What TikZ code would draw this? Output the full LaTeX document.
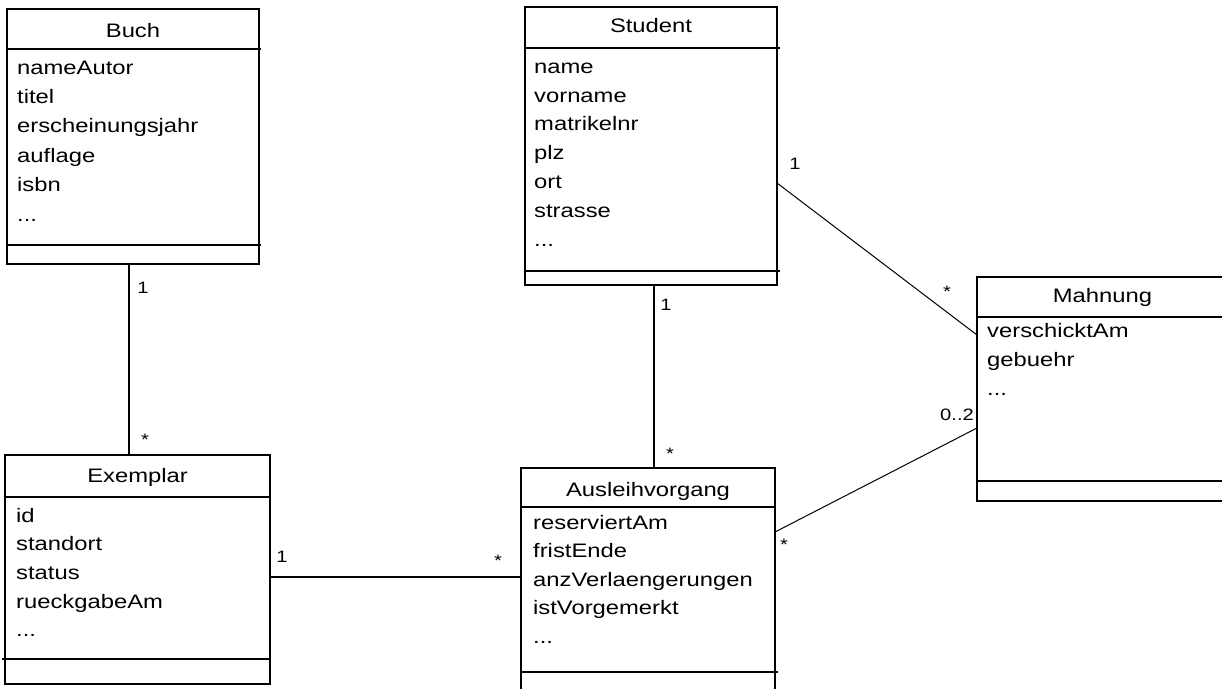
\documentclass[tikz,border=0pt]{standalone}
\usepackage{fontspec}
\setmainfont[FakeStretch=1.22]{Liberation Sans}
\begin{document}
\begin{tikzpicture}[x=1pt,y=-1pt,
  umlbox/.style={draw,line width=1.2pt,inner sep=0pt,outer sep=0pt,rectangle,anchor=north west},
  divider/.style={line width=1.2pt},
  hdr/.style={inner sep=0pt,anchor=base,font=\fontsize{19.5}{22}\selectfont},
  attr/.style={inner sep=0pt,anchor=base west,font=\fontsize{19.5}{22}\selectfont},
  mult/.style={inner sep=0pt,anchor=base,font=\fontsize{16.5}{19}\selectfont},
  thickconn/.style={line width=2pt},
  thinconn/.style={line width=1pt}]
\useasboundingbox (0,0) rectangle (1222,688);

% ---------- Buch ----------
\node[umlbox,minimum width=252pt,minimum height=255pt] (buch) at (7,9) {};
\draw[divider] (buch.west |- 0,49) -- ([xshift=2pt]buch.east |- 0,49);
\draw[divider] (buch.west |- 0,245) -- ([xshift=2pt]buch.east |- 0,245);
\node[hdr] (buchH) at (133,37) {Buch};
\node[attr] (buch1) at (17,74) {nameAutor};
\node[attr] (buch2) at (17,103.4) {titel};
\node[attr] (buch3) at (17,132.8) {erscheinungsjahr};
\node[attr] (buch4) at (17,162.2) {auflage};
\node[attr] (buch5) at (17,191.6) {isbn};
\node[attr] (buch6) at (17,221) {...};

% ---------- Exemplar ----------
\node[umlbox,minimum width=265pt,minimum height=229pt] (ex) at (5,455) {};
\draw[divider] (ex.west |- 0,497) -- (ex.east |- 0,497);
\draw[divider] ([xshift=-3pt]ex.west |- 0,659) -- (ex.east |- 0,659);
\node[hdr] (exH) at (137.5,482) {Exemplar};
\node[attr] (ex1) at (16,522) {id};
\node[attr] (ex2) at (16,550.7) {standort};
\node[attr] (ex3) at (16,579.4) {status};
\node[attr] (ex4) at (16,608.1) {rueckgabeAm};
\node[attr] (ex5) at (16,636.8) {...};

% ---------- Student ----------
\node[umlbox,minimum width=252pt,minimum height=278pt] (stud) at (525,7) {};
\draw[divider] (stud.west |- 0,48) -- ([xshift=3pt]stud.east |- 0,48);
\draw[divider] (stud.west |- 0,271) -- ([xshift=3pt]stud.east |- 0,271);
\node[hdr] (studH) at (651,32) {Student};
\node[attr] (stud1) at (534,73.3) {name};
\node[attr] (stud2) at (534,102.1) {vorname};
\node[attr] (stud3) at (534,130.9) {matrikelnr};
\node[attr] (stud4) at (534,159.7) {plz};
\node[attr] (stud5) at (534,188.5) {ort};
\node[attr] (stud6) at (534,217.3) {strasse};
\node[attr] (stud7) at (534,246.1) {...};

% ---------- Ausleihvorgang ----------
\node[umlbox,minimum width=254pt,minimum height=224pt] (aus) at (521,468) {};
\draw[divider] (aus.west |- 0,507) -- (aus.east |- 0,507);
\draw[divider] (aus.west |- 0,672) -- ([xshift=3pt]aus.east |- 0,672);
\node[hdr] (ausH) at (648,496) {Ausleihvorgang};
\node[attr] (aus1) at (533,529) {reserviertAm};
\node[attr] (aus2) at (533,557.6) {fristEnde};
\node[attr] (aus3) at (533,586.2) {anzVerlaengerungen};
\node[attr] (aus4) at (533,614.8) {istVorgemerkt};
\node[attr] (aus5) at (533,643.4) {...};

% ---------- Mahnung ----------
\node[umlbox,minimum width=251pt,minimum height=224pt] (mahn) at (977,277) {};
\draw[divider] (mahn.west |- 0,317) -- (mahn.east |- 0,317);
\draw[divider] (mahn.west |- 0,481) -- (mahn.east |- 0,481);
\node[hdr] (mahnH) at (1102.5,302) {Mahnung};
\node[attr] (mahn1) at (987,337) {verschicktAm};
\node[attr] (mahn2) at (987,366) {gebuehr};
\node[attr] (mahn3) at (987,395) {...};

% ---------- Connectors ----------
\draw[thickconn] (buch.south -| 129,0) -- (ex.north -| 129,0);
\draw[thickconn] (stud.south -| 654,0) -- (aus.north -| 654,0);
\draw[thickconn] (ex.east |- 0,576.7) -- (aus.west |- 0,576.7);
\draw[thinconn] (stud.east |- 0,183) -- (mahn.west |- 0,335);
\draw[thinconn] (aus.east |- 0,532) -- (mahn.west |- 0,428);

% ---------- Multiplicities ----------
\node[mult] (m1) at (143,293) {1};
\node[mult] (m2) at (145,445.5) {*};
\node[mult] (m3) at (666,310) {1};
\node[mult] (m4) at (670,459) {*};
\node[mult] (m5) at (282,562) {1};
\node[mult] (m6) at (498,566) {*};
\node[mult] (m7) at (795,169) {1};
\node[mult] (m8) at (947,297) {*};
\node[mult] (m9) at (957,420) {0..2};
\node[mult] (m10) at (784,550) {*};
\end{tikzpicture}
\end{document}
